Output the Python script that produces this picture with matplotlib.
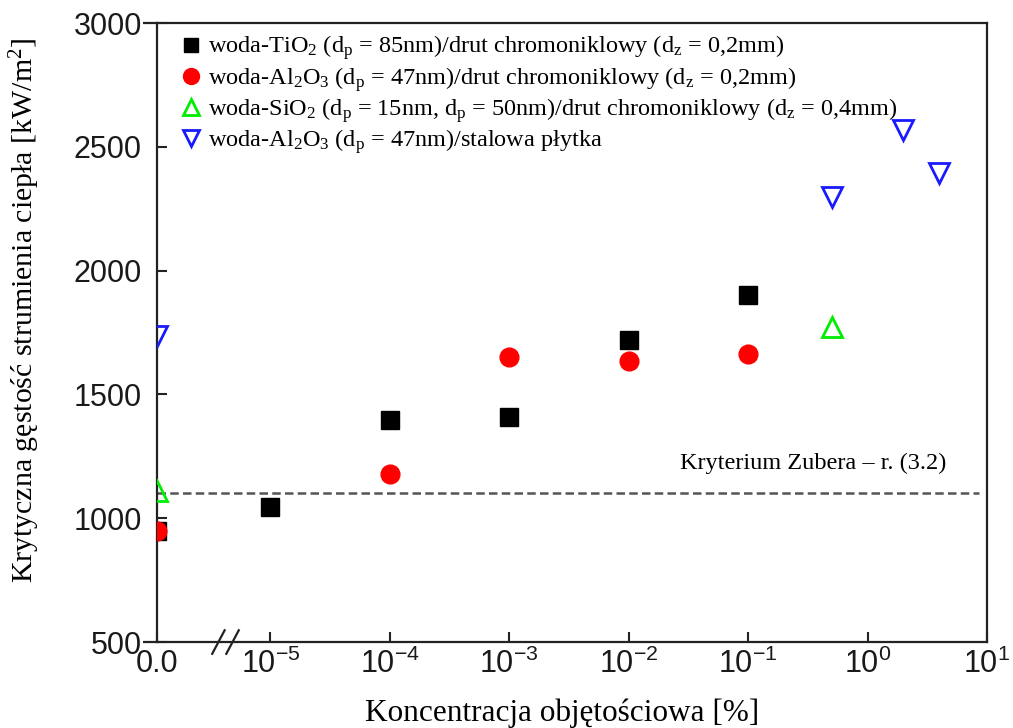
import numpy as np
import matplotlib
matplotlib.use("Agg")
import matplotlib.pyplot as plt

plt.rcParams["font.family"] = ["Liberation Sans", "DejaVu Sans"]
plt.rcParams["mathtext.fontset"] = "custom"
plt.rcParams["mathtext.rm"] = "Liberation Serif"
plt.rcParams["mathtext.it"] = "Liberation Serif:italic"
plt.rcParams["mathtext.sf"] = "Liberation Sans"

# ---- data -------------------------------------------------------------
tio2_x = [0, 1e-5, 1e-4, 1e-3, 1e-2, 1e-1]
tio2_y = [950, 1045, 1397, 1408, 1720, 1900]

al2o3_wire_x = [0, 1e-4, 1e-3, 1e-2, 1e-1]
al2o3_wire_y = [948, 1178, 1650, 1635, 1662]

sio2_x = [0, 0.5]
sio2_y = [1110, 1772]

al2o3_plate_x = [0, 0.5, 2, 4]
al2o3_plate_y = [1737, 2298, 2568, 2395]

zuber_chf = 1100

x_ticks = [0, 1e-5, 1e-4, 1e-3, 1e-2, 1e-1, 1, 10]
x_tick_labels = ["0.0", r"$\mathsf{10^{-5}}$", r"$\mathsf{10^{-4}}$", r"$\mathsf{10^{-3}}$",
                 r"$\mathsf{10^{-2}}$", r"$\mathsf{10^{-1}}$", r"$\mathsf{10^{0}}$",
                 r"$\mathsf{10^{1}}$"]
y_ticks = [500, 1000, 1500, 2000, 2500, 3000]

labels = [
    r"woda-TiO$_2$ (d$_\mathrm{p}$ = 85nm)/drut chromoniklowy (d$_\mathrm{z}$ = 0,2mm)",
    r"woda-Al$_2$O$_3$ (d$_\mathrm{p}$ = 47nm)/drut chromoniklowy (d$_\mathrm{z}$ = 0,2mm)",
    r"woda-SiO$_2$ (d$_\mathrm{p}$ = 15nm, d$_\mathrm{p}$ = 50nm)/drut chromoniklowy (d$_\mathrm{z}$ = 0,4mm)",
    r"woda-Al$_2$O$_3$ (d$_\mathrm{p}$ = 47nm)/stalowa płytka",
]

# ---- broken log axis: zero sits left of 1e-5 --------------------------
ZERO_POS = -5.95


def fwd(x):
    x = np.asarray(x, dtype=float)
    safe = np.where(x > 0, x, 1.0)
    return np.where(x > 0, np.log10(safe), ZERO_POS)


def inv(p):
    p = np.asarray(p, dtype=float)
    return np.where(p > -5.5, 10.0 ** p, 0.0)


fig = plt.figure(figsize=(10.13, 7.28), dpi=100)
ax = fig.add_axes([0.155, 0.1181, 0.8193, 0.8503])
ax.set_xscale("function", functions=(fwd, inv))
ax.set_xlim(0, 10)
ax.set_ylim(500, 3000)

frame_c = "#222222"
for s in ax.spines.values():
    s.set_color(frame_c)
    s.set_linewidth(1.6)

ax.axhline(zuber_chf, xmin=0, xmax=0.99, color="#555555", lw=1.8,
           linestyle=(0, (3.4, 1.7)), zorder=1)

ax.plot(tio2_x, tio2_y, ls="none", marker="s", ms=12.5, color="black",
        mec="black", label=labels[0], zorder=3)
ax.plot(al2o3_wire_x, al2o3_wire_y, ls="none", marker="o", ms=13.5,
        color="#ff0000", mec="#ff0000", label=labels[1], zorder=4)
ax.plot(sio2_x, sio2_y, ls="none", marker="^", ms=14, mfc="none",
        mec="#00ee00", mew=2, label=labels[2], zorder=5)
ax.plot(al2o3_plate_x, al2o3_plate_y, ls="none", marker="v", ms=14,
        mfc="none", mec="#1a1aff", mew=2, label=labels[3], zorder=5)

ax.set_xticks(x_ticks)
ax.set_xticklabels(x_tick_labels)
ax.xaxis.set_minor_locator(matplotlib.ticker.NullLocator())
ax.set_yticks(y_ticks)
ax.yaxis.set_minor_locator(matplotlib.ticker.NullLocator())
ax.tick_params(axis="both", direction="in", length=7, width=1.5,
               color=frame_c, labelcolor="#1a1a1a", labelsize=22)
ax.tick_params(axis="y", pad=11)
ax.tick_params(axis="x", pad=5)
ax.tick_params(top=False, right=False)

# outer stubs at the top and bottom of the value axis
for yy in (0, 1):
    ax.plot([-0.017, 0], [yy, yy], transform=ax.transAxes, clip_on=False,
            color=frame_c, lw=1.6, solid_capstyle="butt")

# axis break marks between 0.0 and 1e-5
for xc in (0.074, 0.091):
    ax.plot([xc - 0.0075, xc + 0.0075], [-0.019, 0.019], transform=ax.transAxes,
            clip_on=False, color=frame_c, lw=1.6)

ax.set_xlabel("Koncentracja objętościowa [%]", family="Liberation Serif",
              fontsize=22.5)
ax.xaxis.set_label_coords(0.488, -0.092)
ax.set_ylabel(r"Krytyczna gęstość strumienia ciepła [kW/m$^2$]",
              family="Liberation Serif", fontsize=21.5)
ax.yaxis.set_label_coords(-0.138, 0.536)

ax.text(0.630, 0.289, "Kryterium Zubera – r. (3.2)", transform=ax.transAxes,
        family="Liberation Serif", fontsize=17.5, ha="left", va="center")

leg = ax.legend(loc="upper left", bbox_to_anchor=(0.0265, 0.983), frameon=False,
                prop={"family": "Liberation Serif", "size": 17.5}, numpoints=1,
                handlelength=1.0, handletextpad=0.2, borderpad=0,
                borderaxespad=0, labelspacing=0.1, markerscale=0.85)

fig.savefig("out.png", dpi=100)
